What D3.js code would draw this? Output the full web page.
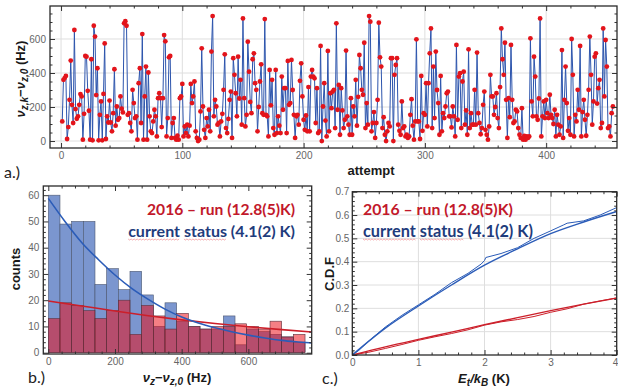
<!DOCTYPE html>
<html>
<head>
<meta charset="utf-8">
<script src="https://cdn.jsdelivr.net/npm/d3@7"></script>
<style>
  body { margin: 0; background: #fff; }
  svg { display: block; }
  .tick text { font-family: "Liberation Sans", Arial, sans-serif; font-size: 10px; fill: #666; }
  .lbl { font-family: "Liberation Sans", Arial, sans-serif; font-weight: bold; font-size: 13px; fill: #1a1a1a; }
  .tag { font-family: Lato, "Open Sans", sans-serif; font-size: 16px; fill: #222; }
  .leg { font-family: Lato, "Open Sans", sans-serif; font-weight: bold; }
</style>
</head>
<body>
<svg id="chart" width="618" height="387"></svg>
<script>
// ---- data ----

// a.) frequency shift per attempt (Hz), attempts 1..N
const deltaNu = [
  115, 360, 370, 383, 12, 82, 242, 473, 213, 106,
  653, 188, 131, 145, 213, 276, 262, 8, 160, 500,
  496, 295, 178, 8, 481, 4, 678, 614, 270, 428,
  4, 154, 233, 4, 277, 574, 12, 145, 109, 238,
  109, 57, 164, 422, 90, 203, 125, 135, 262, 190,
  168, 692, 705, 678, 154, 164, 106, 57, 301, 223,
  135, 145, 8, 340, 428, 106, 629, 8, 262, 438,
  8, 403, 145, 57, 47, 115, 184, 145, 27, 252,
  281, 252, 82, 252, 623, 586, 27, 135, 492, 500,
  18, 106, 135, 18, 8, 31, 8, 252, 262, 336,
  27, 86, 47, 96, 27, 90, 336, 223, 262, 350,
  57, 18, 0, 8, 174, 545, 203, 66, 18,
  135, 86, 184, 57, 526, 735, 145, 242, 203, 96,
  106, 27, 115, 160, 301, 510, 76, 47, 130, 242, 291, 18,
  487, 389, 281, 145, 496, 250, 360, 96, 721, 252, 86,
  154, 584, 408, 230, 164, 481, 516, 340, 301, 57, 200, 350,
  451, 164, 154, 717, 154, 145, 27, 418, 210, 360, 76,
  37, 418, 47, 145, 90, 47, 379, 184, 311, 311, 47,
  471, 213, 223, 477, 300, 154, 18, 145, 154, 96, 354,
  457, 262, 125, 66, 150, 57, 317, 57, 379, 418, 379,
  369, 106, 311, 47, 57, 559, 0, 203, 340, 120, 27,
  530, 57, 281, 193, 291, 301, 76, 692, 184, 330,
  37, 311, 180, 76, 125, 532, 145, 96, 37, 252, 37,
  203, 145, 360, 90, 260, 506, 428, 301, 272, 578, 76,
  223, 96, 735, 702, 57, 106, 170, 18, 106, 242, 696,
  492, 438, 76, 140, 37, 0, 57, 106, 86, 487, 487,
  0, 389, 447, 487, 96, 60, 37, 233, 76, 86, 27,
  37, 18,
  27, 154, 246, 90, 8, 115, 598, 115, 115, 12, 383, 60,
  164, 154, 340, 86, 340, 516, 662, 76, 438, 135, 526, 300,
  223, 37, 383, 57, 164, 135, 203, 281, 291, 145, 145, 80,
  203, 145, 27, 565, 125, 379, 399, 76, 350, 408, 96, 180,
  37, 539, 76, 164, 96, 96, 301, 96, 520, 164, 106, 40,
  76, 213, 291, 66, 37, 8, 86, 389, 262, 262, 154, 200,
  281, 135, 76, 317, 662, 481, 389, 578, 242, 18, 252, 140,
  565, 242, 106, 115, 184, 174, 76, 37, 18, 193, 8, 30,
  8, 27, 18, 27, 604, 233, 145, 496, 379, 145, 125, 250,
  721, 27, 145, 233, 135, 242, 164, 135, 272, 154, 135, 100,
  184, 27, 154, 96, 37, 86, 535, 18, 242, 438, 223, 60,
  135, 37, 600, 389, 27, 154, 115, 301, 184, 559, 27, 170,
  242, 125, 31, 154, 301, 614, 389, 96, 233, 496, 516, 220,
  311, 360, 76, 106, 662, 262, 594, 438, 76, 86, 27, 164, 203
];

// b.) histogram, bin lower edges (Hz), width 35 Hz
const binLo = [0, 35, 70, 105, 140, 175, 210, 245, 280, 315, 350,
               385, 420, 455, 490, 525, 560, 595, 630, 665, 700, 735];
const binWidth = 35;
const countsNow  = [60, 49, 50, 50, 26, 32, 24, 31, 22, 10, 19, 12, 10, 9, 9, 14, 3, 9, 8, 7, 6, 4];
const counts2016 = [13, 19, 18, 16, 13, 16, 20, 7, 18, 14, 9, 15, 10, 9, 10, 10, 11, 10, 9, 12, 6, 7];
// fitted decay curves (Hz, counts)
const fitNowX   = [0, 50, 100, 150, 200, 250, 300, 350, 400, 450, 500, 550, 600, 650, 700, 750, 790];
const fitNowY   = [58.8, 50, 42, 35.5, 29.6, 24.5, 20.3, 16.6, 13.6, 11.3, 9.5, 8.0, 6.7, 5.6, 4.7, 4.1, 3.7];
const fit2016X  = [0, 100, 200, 300, 400, 500, 600, 700, 790];
const fit2016Y  = [19.7, 17.8, 15.9, 14.1, 12.5, 11.1, 9.9, 8.8, 7.9];

// c.) cumulative distributions (E/kB in K, C.D.F)
const cdfNowX  = [0, 0.1, 0.25, 0.5, 0.75, 1, 1.25, 1.5, 1.75, 1.95, 2.0, 2.02, 2.25, 2.5, 2.75, 3, 3.2, 3.25, 3.5, 3.75, 4];
const cdfNowY  = [0, 0.02, 0.06, 0.12, 0.17, 0.215, 0.26, 0.31, 0.35, 0.39, 0.405, 0.418, 0.435, 0.46, 0.5, 0.532, 0.558, 0.565, 0.575, 0.6, 0.632];
const fitCdfNowX = [0, 0.5, 1, 1.5, 2, 2.5, 3, 3.5, 4];
const fitCdfNowY = [0, 0.115, 0.21, 0.3, 0.385, 0.455, 0.52, 0.57, 0.615];
const cdf2016X = [0, 0.25, 0.5, 0.75, 1, 1.25, 1.5, 1.75, 2, 2.25, 2.5, 2.75, 3, 3.25, 3.5, 3.75, 4];
const cdf2016Y = [0, 0.012, 0.028, 0.045, 0.063, 0.078, 0.092, 0.108, 0.128, 0.142, 0.152, 0.165, 0.183, 0.198, 0.218, 0.232, 0.245];
const fitCdf2016X = [0, 0.5, 1, 1.5, 2, 2.5, 3, 3.5, 4];
const fitCdf2016Y = [0, 0.035, 0.067, 0.098, 0.13, 0.16, 0.19, 0.218, 0.244];

const legend2016 = '2016 \u2013 run (12.8(5)K)';
const legendNow  = 'current status (4.1(2) K)';

const RED = '#c2182b';
const NAVY = '#1f3c7c';
const BLUE_LINE = '#2b5cb8';
const RED_LINE = '#cc1f2a';

const svg = d3.select('#chart');

// ---- helpers ----
function grid(g, x, y, xs, ys) {
  const [xl, xr] = x.range(), [yb, yt] = y.range();
  g.append('g').selectAll('line').data(xs).join('line')
    .attr('x1', d => x(d)).attr('x2', d => x(d)).attr('y1', yb).attr('y2', yt)
    .attr('stroke', '#dedede');
  g.append('g').selectAll('line').data(ys).join('line')
    .attr('x1', xl).attr('x2', xr).attr('y1', d => y(d)).attr('y2', d => y(d))
    .attr('stroke', '#dedede');
}

function axes(g, x, y, o) {
  const [xl, xr] = x.range(), [yb, yt] = y.range();
  const add = (axis, tr) => g.append('g').attr('transform', tr).attr('color', '#333')
    .call(axis).call(s => s.select('.domain').remove());
  const xMinor = o.xMinor.filter(v => !o.xTicks.some(t => Math.abs(t - v) < 1e-9));
  const yMinor = o.yMinor.filter(v => !o.yTicks.some(t => Math.abs(t - v) < 1e-9));
  const bottom = add(d3.axisBottom(x).tickValues(o.xTicks).tickSize(-5).tickPadding(o.xPad).tickFormat(o.xFmt), `translate(0,${yb})`);
  add(d3.axisTop(x).tickValues(o.xTicks).tickSize(-5).tickFormat(''), `translate(0,${yt})`);
  add(d3.axisLeft(y).tickValues(o.yTicks).tickSize(-5).tickPadding(o.yPad).tickFormat(o.yFmt), `translate(${xl},0)`);
  add(d3.axisRight(y).tickValues(o.yTicks).tickSize(-5).tickFormat(''), `translate(${xr},0)`);
  add(d3.axisBottom(x).tickValues(xMinor).tickSize(-2.5).tickFormat(''), `translate(0,${yb})`);
  add(d3.axisTop(x).tickValues(xMinor).tickSize(-2.5).tickFormat(''), `translate(0,${yt})`);
  add(d3.axisLeft(y).tickValues(yMinor).tickSize(-2.5).tickFormat(''), `translate(${xl},0)`);
  add(d3.axisRight(y).tickValues(yMinor).tickSize(-2.5).tickFormat(''), `translate(${xr},0)`);
  g.append('rect')
    .attr('x', xl).attr('y', yt).attr('width', xr - xl).attr('height', yb - yt)
    .attr('fill', 'none').attr('stroke', '#2a2a2a').attr('stroke-width', 1.3);
  return bottom;
}

function range(a, b, step) {
  return d3.range(Math.round((b - a) / step) + 1).map(i => +(a + i * step).toFixed(6));
}

// fit a line of text into a given width by choosing the font size
function sizedText(g, str, x, y, width, color, anchor) {
  const t = g.append('text').attr('class', 'leg').attr('x', x).attr('y', y)
    .attr('text-anchor', anchor).attr('fill', color).style('font-size', '16px').text(str);
  const w = t.node().getComputedTextLength();
  t.style('font-size', (16 * width / w).toFixed(2) + 'px');
  return t;
}

// red spell-check squiggle under a word of a text element
function squiggle(g, t, word) {
  const node = t.node();
  const str = node.textContent;
  const i = str.indexOf(word);
  const a = node.getExtentOfChar(i);
  const b = node.getExtentOfChar(i + word.length - 1);
  const x0 = a.x, x1 = b.x + b.width, y0 = a.y + a.height - 1;
  const pts = [];
  for (let px = x0, k = 0; px <= x1; px += 1.5, k++) pts.push([px, y0 + (k % 2 ? 1 : 0)]);
  g.append('path').attr('d', d3.line()(pts)).attr('fill', 'none')
    .attr('stroke', '#e8595e').attr('stroke-width', 0.7).attr('opacity', 0.7);
}

function legend(g, x, anchor, yRed, yBlue, wRed, wBlue) {
  sizedText(g, legend2016, x, yRed, wRed, RED, anchor);
  const t = sizedText(g, legendNow, x, yBlue, wBlue, NAVY, anchor);
  squiggle(g, t, 'current');
  squiggle(g, t, 'status');
}

// ---- a.) attempts ----
{
  const g = svg.append('g');
  const x = d3.scaleLinear().domain([-9.1, 458.4]).range([50, 617]);
  const y = d3.scaleLinear().domain([-41, 794]).range([148, 6]);
  grid(g, x, y, [0, 100, 200, 300, 400], [0, 200, 400, 600]);

  const pts = deltaNu.map((v, i) => [i + 1, v]);
  g.append('path').datum(pts)
    .attr('d', d3.line().x(d => x(d[0])).y(d => y(d[1])))
    .attr('fill', 'none').attr('stroke', '#2d55ad').attr('stroke-width', 1);
  g.append('g').selectAll('circle').data(pts).join('circle')
    .attr('cx', d => x(d[0])).attr('cy', d => y(d[1])).attr('r', 2.4)
    .attr('fill', '#e3141b');

  axes(g, x, y, {
    xTicks: [0, 100, 200, 300, 400], xMinor: range(0, 440, 20), xPad: 4, xFmt: d3.format('d'),
    yTicks: [0, 200, 400, 600], yMinor: range(0, 750, 50), yPad: 4, yFmt: d3.format('d')
  });

  g.append('text').attr('class', 'lbl').attr('x', 371).attr('y', 175)
    .attr('text-anchor', 'middle').text('attempt');
  const yl = g.append('text').attr('class', 'lbl')
    .attr('transform', 'translate(25,79) rotate(-90)').attr('text-anchor', 'middle');
  yl.append('tspan').style('font-style', 'italic').text('\u03bd');
  yl.append('tspan').attr('dy', 3).style('font-size', '10px').style('font-style', 'italic').text('z,k');
  yl.append('tspan').attr('dy', -3).text('\u2212');
  yl.append('tspan').style('font-style', 'italic').text('\u03bd');
  yl.append('tspan').attr('dy', 3).style('font-size', '10px').style('font-style', 'italic').text('z,0');
  yl.append('tspan').attr('dy', -3).text(' (Hz)');

  g.append('text').attr('class', 'tag').attr('x', 4).attr('y', 178).text('a.)');
}

// ---- b.) histogram ----
{
  const g = svg.append('g');
  const x = d3.scaleLinear().domain([-15, 790]).range([43.3, 311.7]);
  const y = d3.scaleLinear().domain([-0.5, 63.5]).range([354, 186]);

  g.append('g').selectAll('rect').data(binLo).join('rect')
    .attr('x', d => x(d)).attr('width', d => x(d + binWidth) - x(d))
    .attr('y', (d, i) => y(countsNow[i])).attr('height', (d, i) => y(0) - y(countsNow[i]))
    .attr('fill', '#7b96cf').attr('stroke', '#4d5870').attr('stroke-width', 0.6);
  g.append('g').selectAll('rect').data(binLo).join('rect')
    .attr('x', d => x(d)).attr('width', d => x(d + binWidth) - x(d))
    .attr('y', (d, i) => y(counts2016[i])).attr('height', (d, i) => y(0) - y(counts2016[i]))
    .attr('fill', 'rgb(235,10,20)').attr('fill-opacity', 0.52)
    .attr('stroke', '#5a3340').attr('stroke-width', 0.6);

  const ln = d3.line().curve(d3.curveMonotoneX).x(d => x(d[0])).y(d => y(d[1]));
  g.append('path').datum(fit2016X.map((v, i) => [v, fit2016Y[i]])).attr('d', ln)
    .attr('fill', 'none').attr('stroke', RED_LINE).attr('stroke-width', 1.6);
  g.append('path').datum(fitNowX.map((v, i) => [v, fitNowY[i]])).attr('d', ln)
    .attr('fill', 'none').attr('stroke', BLUE_LINE).attr('stroke-width', 1.6);

  axes(g, x, y, {
    xTicks: [0, 200, 400, 600], xMinor: range(0, 760, 40), xPad: 4, xFmt: d3.format('d'),
    yTicks: [0, 10, 20, 30, 40, 50, 60], yMinor: range(0, 62, 2), yPad: 4, yFmt: d3.format('d')
  });

  legend(g, 295, 'end', 215, 237, 148, 167);

  g.append('text').attr('class', 'lbl').attr('transform', 'translate(20,269) rotate(-90)')
    .attr('text-anchor', 'middle').text('counts');
  const xl = g.append('text').attr('class', 'lbl').attr('x', 177).attr('y', 382).attr('text-anchor', 'middle');
  xl.append('tspan').style('font-style', 'italic').text('\u03bd');
  xl.append('tspan').attr('dy', 3).style('font-size', '10px').style('font-style', 'italic').text('z');
  xl.append('tspan').attr('dy', -3).text('\u2212');
  xl.append('tspan').style('font-style', 'italic').text('\u03bd');
  xl.append('tspan').attr('dy', 3).style('font-size', '10px').style('font-style', 'italic').text('z,0');
  xl.append('tspan').attr('dy', -3).text(' (Hz)');

  g.append('text').attr('class', 'tag').attr('x', 28).attr('y', 383).text('b.)');
}

// ---- c.) C.D.F ----
{
  const g = svg.append('g');
  const x = d3.scaleLinear().domain([0, 4]).range([352.3, 616.7]);
  const y = d3.scaleLinear().domain([0, 0.7]).range([355, 191.7]);
  grid(g, x, y, [1, 2, 3], [0.1, 0.2, 0.3, 0.4, 0.5, 0.6]);

  const ln = d3.line().x(d => x(d[0])).y(d => y(d[1]));
  const sm = d3.line().curve(d3.curveMonotoneX).x(d => x(d[0])).y(d => y(d[1]));
  g.append('path').datum(cdf2016X.map((v, i) => [v, cdf2016Y[i]])).attr('d', ln)
    .attr('fill', 'none').attr('stroke', RED_LINE).attr('stroke-width', 1);
  g.append('path').datum(fitCdf2016X.map((v, i) => [v, fitCdf2016Y[i]])).attr('d', sm)
    .attr('fill', 'none').attr('stroke', RED_LINE).attr('stroke-width', 1.4);
  g.append('path').datum(cdfNowX.map((v, i) => [v, cdfNowY[i]])).attr('d', ln)
    .attr('fill', 'none').attr('stroke', BLUE_LINE).attr('stroke-width', 1);
  g.append('path').datum(fitCdfNowX.map((v, i) => [v, fitCdfNowY[i]])).attr('d', sm)
    .attr('fill', 'none').attr('stroke', BLUE_LINE).attr('stroke-width', 1.4);

  const bottom = axes(g, x, y, {
    xTicks: [0, 1, 2, 3, 4], xMinor: range(0, 4, 0.2), xPad: 4, xFmt: d3.format('d'),
    yTicks: [0, 0.1, 0.2, 0.3, 0.4, 0.5, 0.6, 0.7], yMinor: range(0, 0.7, 0.02), yPad: 3, yFmt: d3.format('.1f')
  });
  // last label sits at the window edge: keep it inside
  bottom.selectAll('.tick text').filter(d => d === 4).attr('text-anchor', 'end').attr('dx', 1);

  legend(g, 363, 'start', 215, 237, 150, 170);

  g.append('text').attr('class', 'lbl').attr('transform', 'translate(334,274) rotate(-90)')
    .attr('text-anchor', 'middle').text('C.D.F');
  const xl = g.append('text').attr('class', 'lbl').attr('x', 484).attr('y', 383).attr('text-anchor', 'middle');
  xl.append('tspan').style('font-style', 'italic').text('E');
  xl.append('tspan').attr('dy', 3).style('font-size', '10px').style('font-style', 'italic').text('t');
  xl.append('tspan').attr('dy', -3).style('font-style', 'italic').text('/k');
  xl.append('tspan').attr('dy', 3).style('font-size', '10px').style('font-style', 'italic').text('B');
  xl.append('tspan').attr('dy', -3).text(' (K)');

  g.append('text').attr('class', 'tag').attr('x', 322).attr('y', 384).text('c.)');
}
</script>
</body>
</html>
